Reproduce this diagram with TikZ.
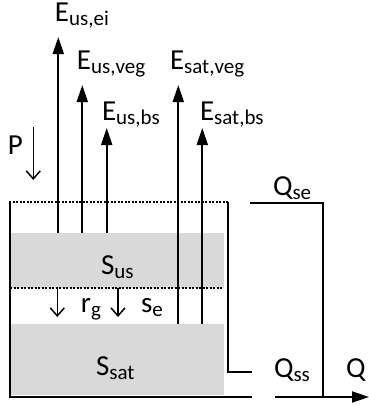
\documentclass[tikz,border=0pt]{standalone}
\usepackage{fontspec}
\setmainfont{Carlito}
\usetikzlibrary{arrows.meta}
\newcommand\lsub[1]{\raisebox{-0.35ex}{\fontsize{21}{21}\selectfont #1}}
\begin{document}
\begin{tikzpicture}[x=1pt,y=-1pt,line width=2pt,
  lbl/.style={font=\fontsize{29}{29}\selectfont,inner sep=0pt,anchor=base west},
  uparrow/.style={-{Triangle[length=17pt,width=11pt]}},
  downarrow/.style={line width=1.5pt,-{Straight Barb[length=8pt,width=14pt]}},
  dotline/.style={line width=1.2pt,dash pattern=on 2pt off 1.5pt},
  wall/.style={line width=2pt}]
\useasboundingbox (0,0) rectangle (369,408);
% stores
\fill[gray!30] (10,233) rectangle (224,288);
\fill[gray!30] (10,324) rectangle (224,395);
\draw[dotline] (9,202) -- (228,202);
\draw[dotline] (10,288) -- (222,288);
% walls
\draw[wall] (9.5,202) -- (9.5,397) -- (252,397);
\draw[wall] (227.7,202) -- (227.7,372) -- (252,372);
\draw[wall] (250,203) -- (323,203) -- (323,397);
% coordinates
\coordinate (b1) at (58.3,233); \coordinate (t1) at (58.3,37);
\coordinate (b2) at (82.3,233); \coordinate (t2) at (82.3,85);
\coordinate (b3) at (106.7,233); \coordinate (t3) at (106.7,128);
\coordinate (b4) at (178.3,324); \coordinate (t4) at (178.3,85);
\coordinate (b5) at (202.3,324); \coordinate (t5) at (202.3,128);
\coordinate (p1) at (33.3,127); \coordinate (p2) at (33.3,180);
\coordinate (r1) at (57.3,288); \coordinate (r2) at (57.3,317);
\coordinate (s1) at (118,288); \coordinate (s2) at (118,317);
\coordinate (q1) at (275,397); \coordinate (q2) at (369,397);
% up arrows
\draw[uparrow] (b1) -- (t1);
\draw[uparrow] (b2) -- (t2);
\draw[uparrow] (b3) -- (t3);
\draw[uparrow] (b4) -- (t4);
\draw[uparrow] (b5) -- (t5);
% down arrows
\draw[downarrow] (p1) -- (p2);
\draw[downarrow] (r1) -- (r2);
\draw[downarrow] (s1) -- (s2);
% outflow
\draw[uparrow] (q1) -- (q2);
% labels
\node[lbl] (eusei) at (54,21) {E\lsub{us,ei}};
\node[lbl] (eusveg) at (76,69) {E\lsub{us,veg}};
\node[lbl] (eusbs) at (101,120) {E\lsub{us,bs}};
\node[lbl] (esatveg) at (169,69) {E\lsub{sat,veg}};
\node[lbl] (esatbs) at (199,120) {E\lsub{sat,bs}};
\node[lbl] (P) at (7,154) {P};
\node[lbl] (qse) at (272,195) {Q\lsub{se}};
\node[lbl] (sus) at (100,274) {S\lsub{us}};
\node[lbl] (rg) at (80,312) {r\lsub{g}};
\node[lbl] (se) at (140,312) {s\lsub{e}};
\node[lbl] (ssat) at (95,375) {S\lsub{sat}};
\node[lbl] (qss) at (273,377) {Q\lsub{ss}};
\node[lbl] (Q) at (345,377) {Q};
\end{tikzpicture}
\end{document}
